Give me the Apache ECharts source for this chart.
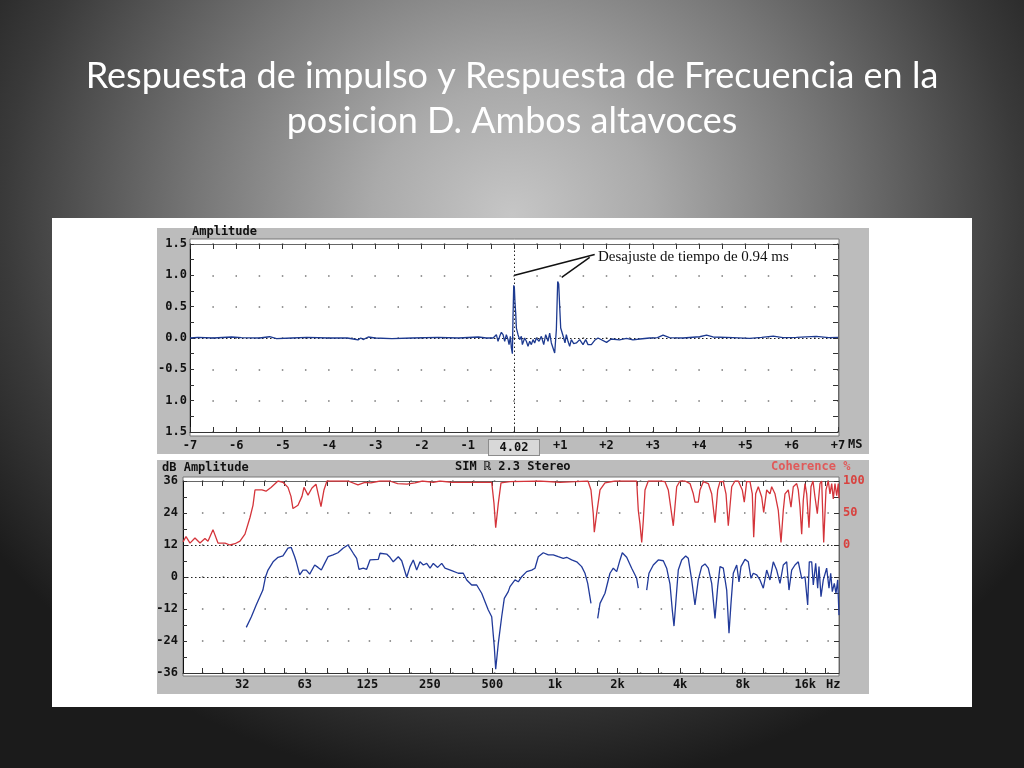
<!DOCTYPE html>
<html><head><meta charset="utf-8">
<script src="https://cdn.jsdelivr.net/npm/echarts@6/dist/echarts.min.js"></script>
<style>
html,body{margin:0;padding:0;width:1024px;height:768px;overflow:hidden;background:#222;}
#c{width:1024px;height:768px;background:radial-gradient(ellipse 62% 75% at 50% 28%, #c6c6c6 0%, #aaaaaa 22%, #767676 50%, #3a3a3a 80%, #1b1b1b 100%);}
</style></head><body><div id="c"></div><script>
// ---------- DATA ----------
const impulseTime = [-7,-6.83,-6.5,-6.1,-5.89,-5.5,-5.28,-5.13,-4.8,-4.47,-4.0,-3.6,-3.44,-3.37,-3.31,-3.26,-3.15,-3.0,-2.64,-2.2,-1.64,-1.2,-0.77,-0.6,-0.45,
 -0.417,-0.381,-0.345,-0.309,-0.273,-0.237,-0.201,-0.165,-0.129,-0.107,-0.078,-0.057,-0.035,-0.021,-0.006,0.008,0.022,0.037,0.051,0.087,0.123,0.159,0.181,0.231,0.267,0.303,0.339,0.375,0.411,0.447,0.483,0.541,0.591,0.642,0.685,0.735,0.771,0.807,0.843,0.879,0.915,0.944,0.966,0.987,1.009,1.045,1.074,1.102,1.131,1.167,1.203,1.239,1.290,1.347,1.419,1.491,1.549,1.599,1.671,1.743,1.815,
 1.85,2.0,2.10,2.28,2.43,2.57,2.72,2.93,3.1,3.22,3.36,3.65,4.01,4.16,4.30,4.73,5.09,5.35,5.60,5.81,6.1,6.53,6.8,7.0];
const impulseAmp = [0,0.01,0,0.016,0.005,0,0.02,-0.01,0,0.01,0,0,-0.02,-0.03,0,-0.025,0.016,0,-0.01,0,0.01,0,0.016,0,0,
 -0.026,0.053,-0.053,0.026,0.09,0.053,-0.053,0.053,-0.026,-0.106,0.026,-0.159,-0.25,0.344,0.84,0.8,0.556,0.397,0.159,0.053,-0.026,0.026,-0.106,0,-0.053,-0.132,-0.053,-0.106,-0.026,-0.079,0,-0.053,0.026,-0.106,0.053,-0.053,0.079,-0.079,-0.159,-0.24,0.132,0.9,0.86,0.503,0.159,0.132,0,-0.079,0.053,-0.053,-0.132,-0.026,-0.09,-0.079,-0.026,-0.106,-0.026,-0.106,-0.106,-0.037,0,
 -0.005,-0.07,-0.016,-0.03,-0.005,-0.03,-0.016,0,0.005,0.045,0.005,0,0.02,0.045,0.016,0.005,-0.005,0.01,0.03,0.005,0.01,0.026,0.005,0.01];

const freqBlue = [32.7,34.6,36.5,39.3,40.5,41.6,44.0,46.5,49.1,51.9,53.8,55.9,56.9,59.1,61.3,63.6,66.0,69.8,72.4,75.1,77.9,80.9,85.5,90.3,95.5,100.9,
 103.2,107.0,111.1,114.0,119.5,124.1,128.8,141.2,143.9,154.9,160.7,166.7,176.2,183.0,193.4,200.6,208.0,216.0,224.1,232.5,241.4,250.5,259.7,272.6,285.0,295.5,318.4,342.5,362.0,376.0,397.4,420.0,443.9,477.6,496.0,510.4,518.4,533.6,554.0,570.3,596.0,
 607.4,642.0,665.8,691.4,730.8,772.5,801.2,831.0,878.4,928.5,981.5,1037,1096,1138,1203,1272,1344,1394,1437,1490,1550,1605,1647,1740,1839,1908,1981,2055,2108,2213,2339,2472,2517,2640,2762,2833,2972,3141,3320,3447,3576,3668,3738,3822,3920,
 4071,4255,4380,4548,4716,4892,5080,5270,5466,5676,5887,6066,6223,6455,6702,6875,7029,7210,7488,7681,7852,8208,8514,8773,8999,9344,9692,10053,10440,10828,11231,11662,12096,12546,13028,13365,13770,14282,14816,15384,15956,
 16442,16736,17187,17494,17965,18368,18635,19053,19544,20288,20821,21216,21595,22080,22496,22925,23258];
const dbBlue = [-18.9,-14.9,-10.5,-4.9,0.1,2.6,5.7,7.4,7.9,10.8,11.1,7.6,5.7,0.8,2.6,2.6,1.1,4.5,3.6,2.6,5.1,7.6,8.3,9.1,10.8,12.0,
 10.8,8.9,7.0,2.9,3.3,2.9,6.4,6.6,8.9,8.6,7.4,5.7,7.6,6.1,-0.1,3.9,6.4,2.6,5.7,4.5,5.1,3.3,5.1,3.6,5.1,3.3,2.4,1.4,1.4,-1.1,-3.0,-3.0,-6.1,-12.4,-14.9,-26.1,-34.6,-24.9,-14.9,-8.0,-5.5,
 -3.6,-1.1,-1.8,0.1,2.0,2.6,3.3,7.6,9.1,8.3,8.3,7.6,7.0,7.4,6.4,5.7,3.9,1.4,-2.4,-9.9,null,-15.5,-9.9,-6.1,1.4,3.3,2.0,6.4,9.1,7.4,3.3,-0.5,-4.2,null,-4.9,1.4,4.5,6.4,6.1,3.3,-2.7,-12.4,-18.4,-8.6,2.6,
 6.4,7.9,7.0,-1.1,-10.5,-1.1,3.9,4.9,3.3,-2.4,-15.5,-3.6,3.9,3.3,-4.9,-21.1,-9.9,1.4,4.5,-1.8,3.9,6.6,5.7,-0.5,1.4,0.8,-1.1,-4.2,2.6,-1.1,5.7,2.6,-2.4,4.5,5.7,-4.9,2.6,4.5,5.7,-0.5,0.1,
 -10.5,5.7,5.7,-3.0,5.1,-4.2,3.9,-7.4,-1.1,3.3,-4.2,1.4,-5.5,-2.4,-6.1,-1.1,-14.3];

const freqRed = [16.22,16.77,17.53,18.52,19.58,20.69,21.39,22.61,23.90,25.83,27.30,28.85,30.50,32.23,34.07,35.22,36.01,38.92,40.68,43.0,46.47,49.1,51.9,53.66,54.86,57.99,60.62,61.98,64.79,67.72,70.79,74.81,77.34,79.96,100.9,112.7,121.8,130,143.9,160,175,194,212,230,260,279.6,319.4,
 496,508.7,518.4,533.6,549.8,607.4,846.8,1057,1248,1441,1490,1528,1546,1587,1647,1740,1944,2472,2517,2564,2614,2660,2711,2811,3201,3383,3509,3709,3851,3995,4222,4463,4629,4716,4892,4986,5172,5466,5676,5887,6066,6223,6455,6651,6822,7084,7348,7620,7966,
 8144,8365,8676,8900,9040,9242,9512,9877,10098,10440,10828,11034,11445,11872,12232,12546,12787,13262,13664,14017,14556,14816,15097,15384,15660,15956,16261,16680,17054,17437,17827,18290,18842,19200,19632,20137,20659,21051,21451,21835,22250,22672,23078,23260];
const cohRed = [5,13,3,11,3,10,6,24,3,3,0,2,6,17,43,62,86,86,84,90,100,98,90,76,57,62,76,90,78,89,95,60,86,100,100,94,98,97,100,100,96,95,97,100,98,100,98,
 98,65,27,65,97,99,100,98,99,100,86,49,20,49,86,97,100,100,54,33,4,38,86,100,100,99,86,30,91,100,100,96,80,67,67,86,99,96,80,35,86,99,99,80,30,91,100,100,86,
 67,99,99,80,12,80,91,75,51,86,80,91,80,54,4,54,80,86,59,91,96,86,59,17,70,96,80,27,91,100,75,49,96,100,4,86,100,80,96,72,96,77,96,73];

const labelFreqs = [31.25,62.5,125,250,500,1000,2000,4000,8000,16000];
const labelNames = ['32','63','125','250','500','1k','2k','4k','8k','16k'];
const thirdOctFreqs = [20,25,31.5,40,50,63,80,100,125,160,200,250,315,400,500,630,800,1000,1250,1600,2000,2500,3150,4000,5000,6300,8000,10000,12500,16000,20000];

// ---------- BUILD ----------
const log2k = f => Math.log2(f / 1000);
const xMinB = log2k(16.22), xMaxB = log2k(23260);
const labelOct = labelFreqs.map(log2k);
const tickOct = thirdOctFreqs.map(log2k);

const impulseData = impulseTime.map((t, i) => [t, impulseAmp[i]]);
const blueData = freqBlue.map((f, i) => [log2k(f), dbBlue[i]]);
const redData = freqRed.map((f, i) => [log2k(f), cohRed[i]]);

const MONO = 'DejaVu Sans Mono';
const txt = { fontFamily: MONO, fontWeight: 'bold', fontSize: 12, color: '#111' };
const dotted = { color: '#222', width: 1, type: [1.5, 2.5] };
const tickStyle = { color: '#333' };

const chart = echarts.init(document.getElementById('c'));
chart.setOption({
  backgroundColor: 'transparent',
  animation: false,
  title: {
    text: 'Respuesta de impulso y Respuesta de Frecuencia en la\nposicion D. Ambos altavoces',
    left: 'center', top: 49,
    textStyle: { color: '#ffffff', fontFamily: 'Lato', fontWeight: 'normal', fontSize: 36, lineHeight: 45 }
  },
  grid: [
    { left: 190, top: 244, width: 648, height: 188 },
    { left: 183, top: 481, width: 656, height: 192 }
  ],
  xAxis: [
    { gridIndex: 0, type: 'value', min: -7, max: 7, interval: 1, position: 'bottom',
      axisLine: { onZero: false, lineStyle: { color: '#333' } },
      axisTick: { inside: true, length: 5, lineStyle: tickStyle },
      minorTick: { show: true, splitNumber: 2, length: 5, lineStyle: tickStyle },
      splitLine: { show: false },
      axisLabel: { ...txt, margin: 8,
        formatter: v => v === 0 ? '{box|4.02}' : (v > 0 ? '+' + v : String(v)),
        rich: { box: { ...txt, backgroundColor: '#d8d8d8', borderColor: '#8c8c8c', borderWidth: 1, width: 50, height: 15, align: 'center' } } } },
    { gridIndex: 0, type: 'value', min: -7, max: 7, interval: 1, position: 'top',
      axisLine: { onZero: false, lineStyle: { color: '#666' } },
      axisTick: { inside: true, length: 5, lineStyle: tickStyle },
      minorTick: { show: true, splitNumber: 2, length: 5, lineStyle: tickStyle },
      axisLabel: { show: false }, splitLine: { show: false } },
    { gridIndex: 1, type: 'value', min: xMinB, max: xMaxB, position: 'bottom',
      axisLine: { onZero: false, lineStyle: { color: '#333' } },
      axisTick: { inside: true, length: 5, customValues: tickOct, lineStyle: tickStyle },
      splitLine: { show: false },
      axisLabel: { ...txt, margin: 6, customValues: labelOct,
        formatter: v => { const i = labelOct.findIndex(o => Math.abs(o - v) < 1e-6); return i >= 0 ? labelNames[i] : ''; } } },
    { gridIndex: 1, type: 'value', min: xMinB, max: xMaxB, position: 'top',
      axisLine: { onZero: false, lineStyle: { color: '#666' } },
      axisTick: { inside: true, length: 5, customValues: tickOct, lineStyle: tickStyle },
      axisLabel: { show: false }, splitLine: { show: false } }
  ],
  yAxis: [
    { gridIndex: 0, type: 'value', min: -1.5, max: 1.5, interval: 0.5, position: 'left',
      axisLine: { show: true, onZero: false, lineStyle: { color: '#111' } },
      axisTick: { show: true, inside: true, length: 4, lineStyle: tickStyle },
      minorTick: { show: true, splitNumber: 2, length: 4, lineStyle: tickStyle },
      axisLabel: { ...txt, margin: 3, formatter: v => (v < -0.5 ? Math.abs(v) : v).toFixed(1) },
      splitLine: { show: true, lineStyle: { color: '#777', width: 1.5, type: [1.5, 21.64], dashOffset: 0.75 } } },
    { gridIndex: 0, type: 'value', min: -1.5, max: 1.5, interval: 0.5, position: 'right',
      axisLine: { show: true, onZero: false, lineStyle: { color: '#666' } },
      axisTick: { show: true, inside: true, length: 5, lineStyle: tickStyle },
      minorTick: { show: true, splitNumber: 2, length: 5, lineStyle: tickStyle },
      axisLabel: { show: false }, splitLine: { show: false } },
    { gridIndex: 1, type: 'value', min: -36, max: 36, interval: 12, position: 'left',
      axisLine: { show: true, onZero: false, lineStyle: { color: '#111' } },
      axisTick: { show: true, inside: true, length: 4, lineStyle: tickStyle },
      minorTick: { show: true, splitNumber: 2, length: 4, lineStyle: tickStyle },
      axisLabel: { ...txt, margin: 5 },
      splitLine: { show: true, lineStyle: { color: '#777', width: 1.5, type: [1.5, 19.35], dashOffset: 1.95 } } },
    { gridIndex: 1, type: 'value', min: -200, max: 100, interval: 50, position: 'right',
      axisLine: { show: true, onZero: false, lineStyle: { color: '#666' } },
      axisTick: { show: true, inside: true, length: 5, lineStyle: tickStyle },
      minorTick: { show: true, splitNumber: 2, length: 5, lineStyle: tickStyle },
      axisLabel: { ...txt, color: '#d8423f', margin: 4, formatter: v => v >= 0 ? String(v) : '' },
      splitLine: { show: false } }
  ],
  series: [
    { type: 'line', xAxisIndex: 0, yAxisIndex: 0, data: impulseData, showSymbol: false, silent: true,
      lineStyle: { color: '#1d3a90', width: 1.3 }, z: 5,
      markLine: { silent: true, symbol: 'none', label: { show: false }, lineStyle: dotted,
        data: [{ yAxis: 0 }, { xAxis: 0 }] } },
    { type: 'line', xAxisIndex: 0, yAxisIndex: 0, data: [], silent: true, z: 6,
      markLine: { silent: true, symbol: 'none', label: { show: false }, lineStyle: { color: '#111', width: 1.5, type: 'solid' },
        data: [ [{ coord: [1.743, 1.333] }, { coord: [0.015, 1.0] }], [{ coord: [1.635, 1.286] }, { coord: [1.03, 0.968] }] ] } },
    { type: 'line', xAxisIndex: 2, yAxisIndex: 2, data: blueData, showSymbol: false, silent: true, connectNulls: false,
      lineStyle: { color: '#213a9a', width: 1.3 }, z: 5,
      markLine: { silent: true, symbol: 'none', label: { show: false }, lineStyle: dotted,
        data: [{ yAxis: 0 }, { yAxis: 12 }] } },
    { type: 'line', xAxisIndex: 2, yAxisIndex: 3, data: redData, showSymbol: false, silent: true,
      lineStyle: { color: '#d4343a', width: 1.3 }, z: 5 }
  ],
  graphic: [
    { type: 'rect', z: -20, silent: true, shape: { x: 52, y: 218, width: 920, height: 489 }, style: { fill: '#ffffff' } },
    { type: 'rect', z: -19, silent: true, shape: { x: 157, y: 228, width: 712, height: 226 }, style: { fill: '#bcbcbc' } },
    { type: 'rect', z: -18, silent: true, shape: { x: 190, y: 239, width: 649, height: 197 }, style: { fill: '#ffffff', stroke: '#777', lineWidth: 1 } },
    { type: 'rect', z: -19, silent: true, shape: { x: 157, y: 460, width: 712, height: 234 }, style: { fill: '#bcbcbc' } },
    { type: 'rect', z: -18, silent: true, shape: { x: 183, y: 477, width: 656, height: 199 }, style: { fill: '#ffffff', stroke: '#777', lineWidth: 1 } },
    { type: 'text', z: 50, silent: true, left: 192, top: 226, style: { text: 'Amplitude', font: 'bold 12px "DejaVu Sans Mono"', fill: '#111' } },
    { type: 'text', z: 50, silent: true, left: 162, top: 462, style: { text: 'dB Amplitude', font: 'bold 12px "DejaVu Sans Mono"', fill: '#111' } },
    { type: 'text', z: 50, silent: true, left: 455, top: 461, style: { text: 'SIM ℝ 2.3 Stereo', font: 'bold 12px "DejaVu Sans Mono"', fill: '#111' } },
    { type: 'text', z: 50, silent: true, left: 771, top: 461, style: { text: 'Coherence %', font: 'bold 12px "DejaVu Sans Mono"', fill: '#e05a5a' } },
    { type: 'text', z: 50, silent: true, left: 848, top: 439, style: { text: 'MS', font: 'bold 12px "DejaVu Sans Mono"', fill: '#111' } },
    { type: 'text', z: 50, silent: true, left: 826, top: 679, style: { text: 'Hz', font: 'bold 12px "DejaVu Sans Mono"', fill: '#111' } },
    { type: 'text', z: 50, silent: true, left: 598, top: 250, style: { text: 'Desajuste de tiempo de 0.94 ms', font: '15px "Liberation Serif"', fill: '#111' } }
  ]
});
</script></body></html>
